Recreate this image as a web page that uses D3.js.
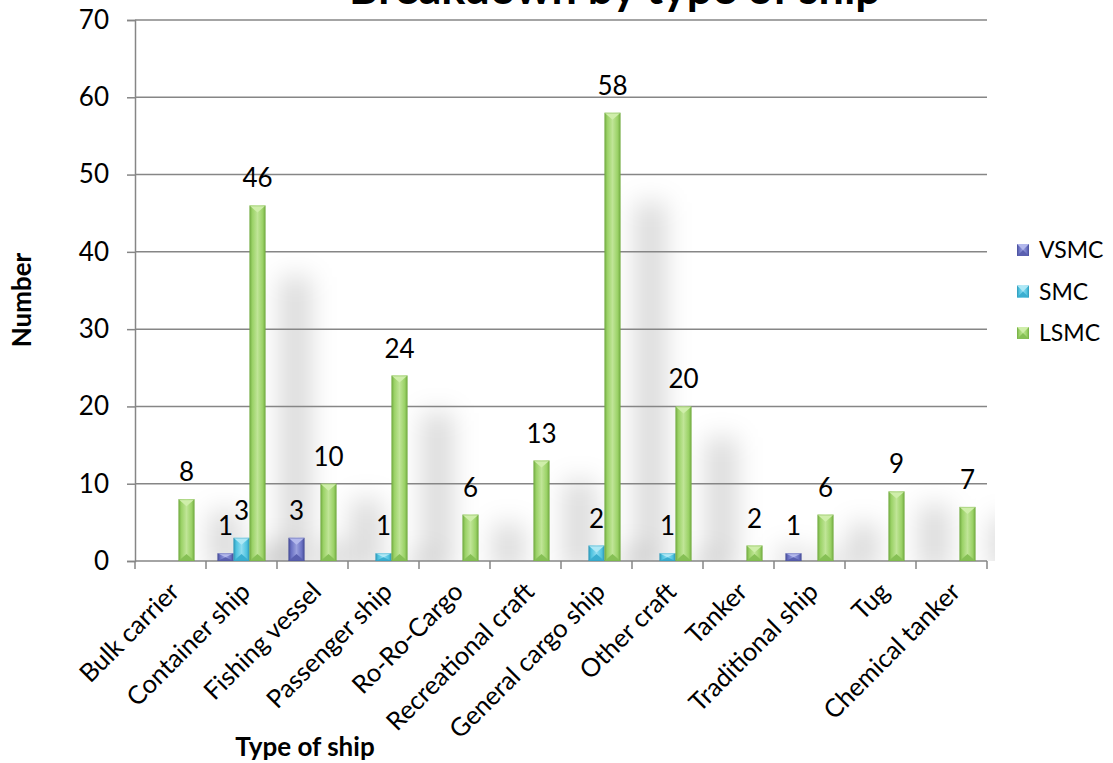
<!DOCTYPE html>
<html>
<head>
<meta charset="utf-8">
<script src="https://cdn.jsdelivr.net/npm/d3@7/dist/d3.min.js"></script>
<style>
  html, body { margin: 0; padding: 0; background: #ffffff; }
  svg { display: block; }
  text { font-family: Lato, "Open Sans", sans-serif; fill: #000; }
</style>
</head>
<body>
<svg id="chart" width="1113" height="763"></svg>
<script>
// Ship types along the category axis
const categories = [
  "Bulk carrier", "Container ship", "Fishing vessel", "Passenger ship",
  "Ro-Ro-Cargo", "Recreational craft", "General cargo ship", "Other craft",
  "Tanker", "Traditional ship", "Tug", "Chemical tanker"
];
// Counts per size class
const seriesNames = ["VSMC", "SMC", "LSMC"];
const vsmc = [0, 1, 3, 0, 0, 0, 0, 0, 0, 1, 0, 0];
const smc  = [0, 3, 0, 1, 0, 0, 2, 1, 0, 0, 0, 0];
const lsmc = [8, 46, 10, 24, 6, 13, 58, 20, 2, 6, 9, 7];
const yTicks = [0, 10, 20, 30, 40, 50, 60, 70];

const seriesValues = [vsmc, smc, lsmc];
const palette = [
  { base: "#6b72c4", light: "#9aa0de", dark: "#474d98", top: "#b3b8ec", bottom: "#5a60b0" },
  { base: "#4fc3e0", light: "#8fdcf0", dark: "#2e98b8", top: "#aee8f6", bottom: "#3aaed0" },
  { base: "#9bd267", light: "#c0e597", dark: "#72ab42", top: "#cfeeaa", bottom: "#86c055" }
];

const svg = d3.select("#chart");
const margin = { left: 135, right: 126, top: 20, bottom: 202 };
const W = 1113, H = 763;
const x0 = margin.left, x1 = W - margin.right;
const yBase = H - margin.bottom;

const x = d3.scaleBand().domain(categories).range([x0, x1]).paddingInner(0).paddingOuter(0);
const y = d3.scaleLinear().domain([0, 70]).range([yBase, margin.top]);
const barW = 16;
const xs = d3.scaleBand().domain(seriesNames).range([-barW * 1.5, barW * 1.5]);

const defs = svg.append("defs");
defs.append("filter").attr("id", "soft").attr("x", "-200%").attr("y", "-50%")
  .attr("width", "500%").attr("height", "200%")
  .append("feGaussianBlur").attr("stdDeviation", 13);
defs.append("clipPath").attr("id", "plotClip")
  .append("rect").attr("x", x0).attr("y", margin.top).attr("width", x1 - x0 + 8).attr("height", yBase - margin.top);

palette.forEach((p, i) => {
  const g = defs.append("linearGradient").attr("id", "body" + i)
    .attr("x1", "0").attr("x2", "1").attr("y1", "0").attr("y2", "0");
  g.append("stop").attr("offset", "0").attr("stop-color", p.dark);
  g.append("stop").attr("offset", "0.18").attr("stop-color", p.base);
  g.append("stop").attr("offset", "0.5").attr("stop-color", p.light);
  g.append("stop").attr("offset", "0.82").attr("stop-color", p.base);
  g.append("stop").attr("offset", "1").attr("stop-color", p.dark);
});

// Soft cast shadows behind the bars
const shadowLayer = svg.append("g").attr("clip-path", "url(#plotClip)")
  .append("g").attr("filter", "url(#soft)");
seriesValues.forEach((vals, si) => {
  vals.forEach((v, ci) => {
    if (v <= 0) return;
    const cx = x(categories[ci]) + x.bandwidth() / 2 + xs(seriesNames[si]) + xs.bandwidth() / 2 + 38;
    const top = y(v * 0.8);
    shadowLayer.append("rect")
      .attr("x", cx - 15).attr("width", 30)
      .attr("y", top).attr("height", yBase - top + 10)
      .attr("fill", "#000").attr("fill-opacity", 0.15);
  });
});

// Horizontal gridlines
svg.append("g").selectAll("line").data(yTicks.filter(t => t > 0)).join("line")
  .attr("x1", x0).attr("x2", x1)
  .attr("y1", d => y(d)).attr("y2", d => y(d))
  .attr("stroke", "#868686").attr("stroke-width", 1.5);

// Y axis
const yAxis = svg.append("g").attr("transform", `translate(${x0},0)`)
  .call(d3.axisLeft(y).tickValues(yTicks).tickSize(8).tickPadding(18));
yAxis.select(".domain").attr("stroke", "#868686").attr("stroke-width", 1.5);
yAxis.selectAll(".tick line").attr("stroke", "#868686").attr("stroke-width", 1.5);
yAxis.selectAll(".tick text").attr("font-size", 26).attr("font-family", "Lato, sans-serif").attr("fill", "#000");

// X axis: ticks sit on category boundaries
const xAxis = svg.append("g").attr("transform", `translate(0,${yBase})`);
xAxis.append("line").attr("x1", x0).attr("x2", x1).attr("y1", 0).attr("y2", 0)
  .attr("stroke", "#868686").attr("stroke-width", 1.5);
const bounds = categories.map(c => x(c)).concat([x1]);
xAxis.selectAll("line.tk").data(bounds).join("line").attr("class", "tk")
  .attr("x1", d => d).attr("x2", d => d).attr("y1", 0).attr("y2", 8)
  .attr("stroke", "#868686").attr("stroke-width", 1.5);
xAxis.selectAll("text").data(categories).join("text")
  .attr("transform", d => `translate(${x(d) + x.bandwidth() / 2 + 4},${26}) rotate(-45)`)
  .attr("text-anchor", "end").attr("dy", "0.35em")
  .attr("font-size", 25.5).text(d => d);

// Bars with bevelled faces
const barLayer = svg.append("g");
seriesValues.forEach((vals, si) => {
  const p = palette[si];
  vals.forEach((v, ci) => {
    if (v <= 0) return;
    const bx = x(categories[ci]) + x.bandwidth() / 2 + xs(seriesNames[si]);
    const top = y(v), h = yBase - top, w = xs.bandwidth();
    const b = Math.min(7, h / 2);
    const g = barLayer.append("g");
    g.append("rect").attr("x", bx).attr("y", top).attr("width", w).attr("height", h)
      .attr("fill", `url(#body${si})`);
    g.append("path")
      .attr("d", `M${bx},${top}L${bx + w},${top}L${bx + w / 2},${top + b}Z`)
      .attr("fill", p.top);
    g.append("path")
      .attr("d", `M${bx},${yBase}L${bx + w},${yBase}L${bx + w / 2},${yBase - b}Z`)
      .attr("fill", p.bottom);
    g.append("rect").attr("x", bx + 0.5).attr("y", top + 0.5).attr("width", w - 1).attr("height", h - 1)
      .attr("fill", "none").attr("stroke", p.dark).attr("stroke-opacity", 0.35).attr("stroke-width", 1);
  });
});

// Value labels
const labelLayer = svg.append("g");
seriesValues.forEach((vals, si) => {
  vals.forEach((v, ci) => {
    if (v <= 0) return;
    const cx = x(categories[ci]) + x.bandwidth() / 2 + xs(seriesNames[si]) + xs.bandwidth() / 2;
    labelLayer.append("text")
      .attr("x", cx).attr("y", y(v) - 18)
      .attr("text-anchor", "middle").attr("font-size", 26).text(v);
  });
});

// Title
svg.append("text").attr("x", 615).attr("y", 4)
  .attr("text-anchor", "middle").attr("font-size", 45).attr("font-weight", "bold")
  .text("Breakdown by type of ship");

// Axis titles
svg.append("text").attr("x", 305).attr("y", 756)
  .attr("text-anchor", "middle").attr("font-size", 26).attr("font-weight", "bold")
  .text("Type of ship");
svg.append("text").attr("transform", "translate(31,300) rotate(-90)")
  .attr("text-anchor", "middle").attr("font-size", 26).attr("font-weight", "bold")
  .text("Number");

// Legend
const legend = svg.append("g").attr("transform", "translate(1017,250)");
seriesNames.forEach((name, i) => {
  const p = palette[i];
  const g = legend.append("g").attr("transform", `translate(0,${i * 41.5})`);
  g.append("rect").attr("x", 0).attr("y", -6).attr("width", 12).attr("height", 12)
    .attr("fill", `url(#body${i})`);
  g.append("path").attr("d", "M0,-6L12,-6L6,0Z").attr("fill", p.top);
  g.append("path").attr("d", "M0,6L12,6L6,0Z").attr("fill", p.bottom);
  g.append("text").attr("x", 22).attr("y", 0).attr("dy", "0.35em")
    .attr("font-size", 23).text(name);
});
</script>
</body>
</html>
